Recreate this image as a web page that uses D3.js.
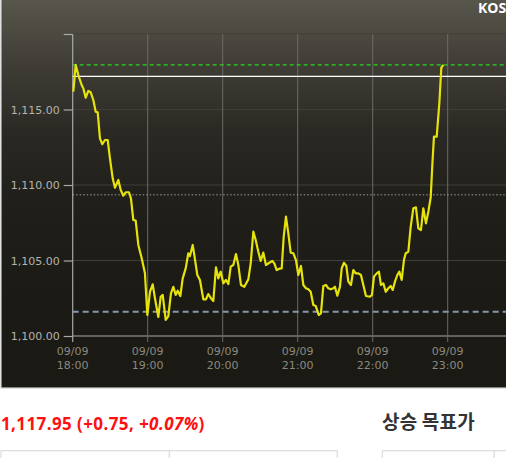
<!DOCTYPE html>
<html>
<head>
<meta charset="utf-8">
<script src="https://cdn.jsdelivr.net/npm/d3@7"></script>
<style>
  html, body { margin: 0; padding: 0; background: #fff; overflow: hidden; }
  svg { display: block; }
</style>
</head>
<body>
<svg id="chart" width="506" height="458"></svg>
<script>
// ---- data (minutes after 09/09 18:00, price) ----
const minutes = [0.5,2.4,4.5,7.2,8.5,10.4,12.5,14.4,16.5,18.4,20.0,21.8,23.7,25.8,28.0,29.8,32.0,33.8,36.5,38.4,40.5,42.4,45.0,46.6,48.5,50.4,52.5,55.2,57.8,59.7,61.8,64.0,65.8,68.5,70.4,72.0,74.4,76.5,78.6,80.5,82.4,84.0,86.1,88.0,90.4,92.5,93.8,96.0,97.3,99.7,101.8,104.5,106.6,108.5,110.6,112.5,114.6,116.5,118.4,120.5,122.6,124.5,126.4,128.5,130.6,132.5,134.6,137.3,140.5,142.4,144.5,146.4,148.5,150.4,152.5,154.6,157.3,159.7,161.3,163.2,165.3,167.2,168.8,170.6,172.5,174.4,176.5,178.6,180.5,182.6,184.5,186.6,188.5,190.4,192.5,194.4,196.8,198.6,200.5,202.6,204.5,206.4,208.5,209.8,211.7,213.8,215.2,217.0,218.9,220.5,222.6,224.5,226.4,228.5,230.6,232.5,234.6,237.8,239.4,241.0,243.2,245.0,246.6,248.5,250.4,252.5,254.4,256.0,257.8,259.7,261.3,263.2,265.0,266.4,268.5,270.4,272.5,274.6,276.5,278.6,280.5,282.6,284.5,286.4,287.7,289.0,291.2,293.3,294.9,296.5];
const prices = [1116.18,1117.95,1117.28,1116.62,1116.40,1115.78,1116.23,1116.14,1115.63,1114.85,1114.81,1113.09,1112.70,1112.98,1112.98,1111.77,1110.44,1109.82,1110.33,1109.67,1109.29,1109.52,1109.52,1109.12,1107.68,1107.64,1106.03,1105.15,1104.15,1101.39,1102.93,1103.42,1102.50,1101.26,1102.60,1102.72,1101.06,1101.32,1102.83,1103.26,1102.72,1103.00,1102.65,1103.82,1104.48,1105.48,1105.30,1106.03,1105.36,1104.04,1103.71,1102.43,1102.43,1102.78,1102.50,1102.32,1104.55,1103.82,1104.26,1103.49,1103.71,1103.44,1104.59,1104.70,1105.43,1104.70,1103.38,1103.26,1103.75,1104.81,1106.91,1106.36,1105.58,1104.97,1105.52,1104.70,1104.85,1104.97,1104.81,1104.37,1104.46,1104.48,1106.58,1107.90,1106.80,1105.52,1105.48,1105.03,1104.04,1104.64,1103.38,1103.16,1103.09,1102.93,1102.05,1101.99,1101.39,1101.50,1103.31,1103.38,1103.16,1103.09,1103.16,1103.26,1102.67,1103.26,1104.48,1104.85,1104.64,1103.60,1103.38,1104.37,1104.15,1104.15,1104.04,1103.38,1102.65,1102.60,1102.72,1103.93,1104.15,1104.26,1103.38,1103.49,1102.93,1103.16,1103.31,1103.05,1103.60,1104.04,1104.26,1103.71,1105.03,1105.48,1105.58,1107.24,1108.46,1108.52,1107.13,1107.02,1108.46,1107.46,1108.23,1109.17,1111.32,1113.20,1113.20,1115.41,1117.77,1117.95];

const yTicks = [1100, 1105, 1110, 1115, 1120];
const yLabelTicks = [1100, 1105, 1110, 1115];
const xTickHours = [18, 19, 20, 21, 22, 23];
const xTickDate = "09/09";

const currentPrice = 1117.95;
const prevClose = 1117.20;
const dottedLevel = 1109.35;
const supportLevel = 1101.60;

const headlineText = "1,117.95 (+0.75, ";
const headlineItalic = "+0.07%";
const headlineEnd = ")";
const targetTitle = "상승 목표가";
const cornerTitle = "KOSPI";

// ---- layout ----
const svg = d3.select("#chart");
const boxBottom = 388;
const plot = { left: 72.7, top: 34, bottom: 336 };

const base = new Date(2019, 8, 9, 18, 0, 0);
const toDate = m => new Date(base.getTime() + m * 60000);

const x = d3.scaleTime()
  .domain([toDate(0), toDate(360)])
  .range([plot.left, plot.left + 450]);
const y = d3.scaleLinear()
  .domain([1100, 1120])
  .range([plot.bottom, plot.top]);

// background gradient
const defs = svg.append("defs");
const grad = defs.append("linearGradient").attr("id", "bg")
  .attr("x1", 0).attr("y1", 0).attr("x2", 0).attr("y2", 1);
[[0, "#59574c"], [0.17, "#3f3d36"], [0.34, "#2b2923"], [0.52, "#211f1a"], [0.75, "#1c1a15"], [1, "#1b1914"]]
  .forEach(([o, c]) => grad.append("stop").attr("offset", o).attr("stop-color", c));

svg.append("rect").attr("x", 1).attr("y", -2).attr("width", 520).attr("height", boxBottom + 2)
  .attr("fill", "url(#bg)").attr("stroke", "#cfcfcf").attr("stroke-width", 1.2);

// horizontal gridlines
svg.append("g").selectAll("line").data(yTicks).join("line")
  .attr("x1", plot.left).attr("x2", 506)
  .attr("y1", d => y(d)).attr("y2", d => y(d))
  .attr("stroke", d => d === 1100 ? "#a9a9a9" : "#403e38")
  .attr("stroke-width", 1.2);

// vertical gridlines
svg.append("g").selectAll("line").data(xTickHours.slice(1)).join("line")
  .attr("x1", d => x(toDate((d - 18) * 60))).attr("x2", d => x(toDate((d - 18) * 60)))
  .attr("y1", plot.top).attr("y2", plot.bottom + 6)
  .attr("stroke", "#6c6b66").attr("stroke-width", 1);

// y axis
const yAxis = d3.axisLeft(y).tickValues(yTicks).tickSize(9).tickPadding(4)
  .tickFormat(d => yLabelTicks.includes(d) ? d3.format(",.2f")(d) : "");
const gy = svg.append("g").attr("transform", `translate(${plot.left},0)`).call(yAxis);
gy.select(".domain").remove();
gy.selectAll(".tick line").attr("stroke", "#a9a9a9").attr("stroke-width", 1.2);
gy.selectAll(".tick text").attr("fill", "#b4b4ae").style("font-family", "DejaVu Sans").style("font-size", "11px");
svg.append("line").attr("x1", plot.left).attr("x2", plot.left)
  .attr("y1", plot.top).attr("y2", plot.bottom + 6).attr("stroke", "#a9a9a9").attr("stroke-width", 1.2);

// x labels
const xl = svg.append("g").selectAll("text").data(xTickHours).join("text")
  .attr("x", d => x(toDate((d - 18) * 60)))
  .attr("text-anchor", "middle")
  .attr("fill", "#8a897f")
  .style("font-family", "DejaVu Sans").style("font-size", "11px");
xl.append("tspan").attr("x", d => x(toDate((d - 18) * 60))).attr("y", 355).text(xTickDate);
xl.append("tspan").attr("x", d => x(toDate((d - 18) * 60))).attr("y", 369).text(d => d + ":00");

// reference lines
const ref = (v, color, dash, w) => svg.append("line")
  .attr("x1", plot.left).attr("x2", 506).attr("y1", y(v)).attr("y2", y(v))
  .attr("stroke", color).attr("stroke-width", w).attr("stroke-dasharray", dash);
ref(dottedLevel, "#9a9a94", "1.5,2", 1);
ref(supportLevel, "#8797ab", "6,4", 2);
ref(prevClose, "#ffffff", null, 1.3);
ref(currentPrice, "#2ad81e", "4,3", 1.2);

// price line
const line = d3.line()
  .x((d, i) => x(toDate(minutes[i])))
  .y(d => y(d));
svg.append("path").datum(prices)
  .attr("d", line)
  .attr("fill", "none")
  .attr("stroke", "#e5e30a")
  .attr("stroke-width", 2.2)
  .attr("stroke-linejoin", "round");

// corner title (partly outside the visible window, as in the reference)
svg.append("text").attr("x", 478).attr("y", 13)
  .attr("fill", "#ffffff").style("font-family", "Open Sans").style("font-weight", "bold").style("font-size", "14px")
  .text(cornerTitle);

// headline below chart
const ht = svg.append("text").attr("x", 1).attr("y", 430)
  .attr("fill", "#ff1010").style("font-family", "Open Sans").style("font-weight", "bold")
  .style("font-size", "17px").style("letter-spacing", "0.4px");
ht.append("tspan").text(headlineText);
ht.append("tspan").style("font-style", "italic").text(headlineItalic);
ht.append("tspan").text(headlineEnd);

svg.append("text").attr("x", 382).attr("y", 428.5)
  .attr("fill", "#333333").style("font-family", "Noto Sans CJK KR").style("font-weight", "bold")
  .style("font-size", "19px").style("letter-spacing", "0.2px")
  .text(targetTitle);

// table boxes
const boxes = [[1, 168.5], [169.3, 168], [382.3, 112], [494.3, 20]];
svg.append("g").selectAll("rect").data(boxes).join("rect")
  .attr("x", d => d[0]).attr("y", 450.7).attr("width", d => d[1]).attr("height", 30)
  .attr("fill", "#fff").attr("stroke", "#dcdcdc").attr("stroke-width", 1.2);
</script>
</body>
</html>
